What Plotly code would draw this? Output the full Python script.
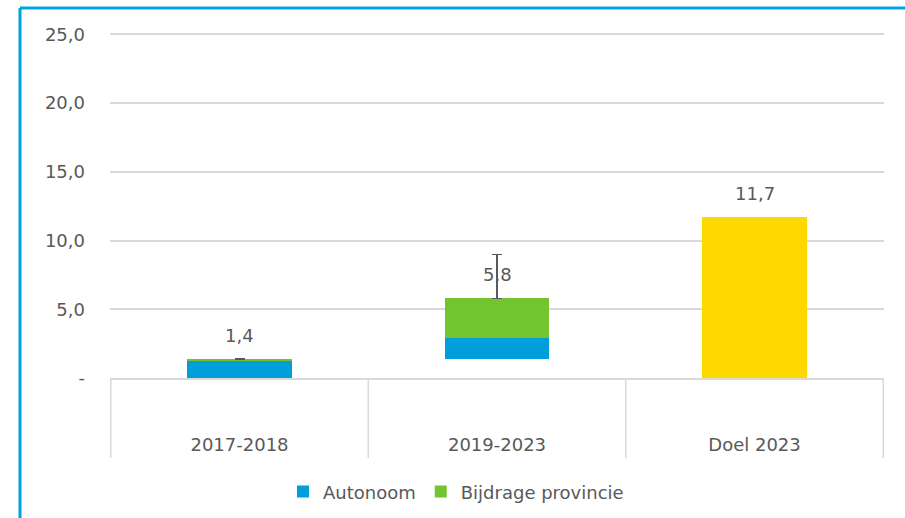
import plotly.graph_objects as go

categories = ["2017-2018", "2019-2023", "Doel 2023"]
offset = [0, 1.4, 0]
autonoom = [1.23, 1.5, None]
bijdrage = [0.17, 2.9, None]
doel = [None, None, 11.7]
totals = [1.4, 5.8, 11.7]
err_plus = [0, 3.2, None]
y_ticks = [0, 5, 10, 15, 20, 25]
y_ticktext = ["-", "5,0", "10,0", "15,0", "20,0", "25,0"]

BLUE = "#009FDA"
GREEN = "#72C52E"
YELLOW = "#FFD800"
TEXT = "#595959"
GRID = "#D9D9D9"
FONT = "DejaVu Sans"

fig = go.Figure()
# invisible base so the 2019-2023 bar floats on top of the earlier total
fig.add_trace(go.Bar(
    x=categories, y=offset, marker_color="rgba(0,0,0,0)",
    marker_line_width=0, showlegend=False, hoverinfo="skip",
))
fig.add_trace(go.Bar(
    x=categories, y=autonoom, name="Autonoom", marker_color=BLUE,
    marker_line_width=0,
))
fig.add_trace(go.Bar(
    x=categories, y=bijdrage, name="Bijdrage provincie", marker_color=GREEN,
    marker_line_width=0,
    error_y=dict(type="data", symmetric=False, array=err_plus,
                 arrayminus=[0, 0, 0], color=TEXT, thickness=1.5, width=5),
))
fig.add_trace(go.Bar(
    x=categories, y=doel, marker_color=YELLOW, marker_line_width=0,
    showlegend=False,
))

for cat, tot in zip(categories, totals):
    fig.add_annotation(
        x=cat, y=tot, text=f"{tot:.1f}".replace(".", ","),
        showarrow=False, yanchor="bottom", yshift=11,
        font=dict(size=18, color=TEXT, family=FONT),
    )

# category dividers below the baseline
for xv in [-0.5, 0.5, 1.5, 2.5]:
    fig.add_shape(type="line", xref="x", yref="paper", x0=xv, x1=xv,
                  y0=0, y1=-0.232, line=dict(color=GRID, width=1.5))

# light blue frame (top and left)
fig.add_shape(type="line", xref="paper", yref="paper", x0=-0.1163, x1=1.05,
              y0=1.0725, y1=1.0725, line=dict(color="#00A3E0", width=3))
fig.add_shape(type="line", xref="paper", yref="paper", x0=-0.1163, x1=-0.1163,
              y0=1.0725, y1=-0.45, line=dict(color="#00A3E0", width=3))

fig.update_layout(
    barmode="stack",
    bargap=0.595,
    width=905, height=518,
    margin=dict(l=110, r=21, t=33, b=140, autoexpand=False),
    plot_bgcolor="white", paper_bgcolor="white",
    font=dict(family=FONT, color=TEXT, size=18),
    separators=",.",
    legend=dict(orientation="h", x=0.447, xanchor="center", y=-0.33,
                yanchor="middle", font=dict(size=18, color=TEXT),
                itemwidth=30, traceorder="normal"),
    xaxis=dict(showgrid=False, showline=True, linecolor=GRID, linewidth=1.5,
               tickfont=dict(size=18, color=TEXT), ticks="",
               ticklabelstandoff=50, automargin=False),
    yaxis=dict(range=[0, 25.1], tickvals=y_ticks, ticktext=y_ticktext,
               showgrid=True, gridcolor=GRID, gridwidth=1.5, zeroline=False,
               tickfont=dict(size=18, color=TEXT), ticklabelstandoff=24,
               automargin=False),
)

fig.write_html("out.html", config={"displayModeBar": False},
               post_script="document.body.style.margin='0';")
